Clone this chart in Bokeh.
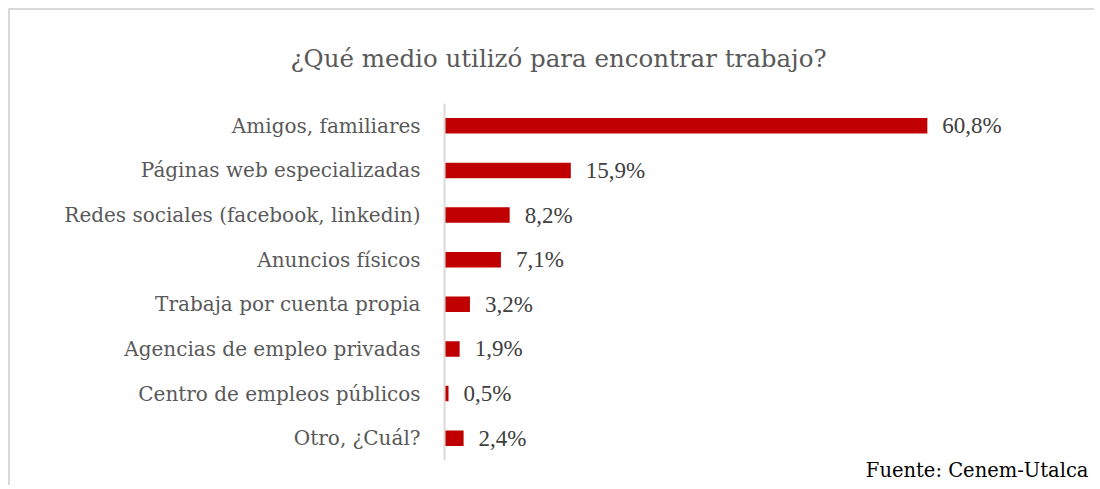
from bokeh.plotting import figure
from bokeh.models import ColumnDataSource, LabelSet, Span, Title
from bokeh.core.properties import value
from bokeh.embed import file_html
from bokeh.resources import INLINE

categories = ["Amigos, familiares", "Páginas web especializadas",
              "Redes sociales (facebook, linkedin)", "Anuncios físicos",
              "Trabaja por cuenta propia", "Agencias de empleo privadas",
              "Centro de empleos públicos", "Otro, ¿Cuál?"]
values = [60.8, 15.9, 8.2, 7.1, 3.2, 1.9, 0.5, 2.4]
labels = [f"{v:.1f}".replace(".", ",") + "%" for v in values]
title_text = "¿Qué medio utilizó para encontrar trabajo?"
source_text = "Fuente: Cenem-Utalca"

FONT = "DejaVu Serif"

src = ColumnDataSource(dict(cat=categories, val=values, lab=labels))

W, H = 1086, 477

p = figure(width=W, height=H, y_range=list(reversed(categories)),
           x_range=(-53.4, 82.1), output_backend="svg", toolbar_location=None,
           min_border_left=10, min_border_right=0, min_border_top=93,
           min_border_bottom=27)
p.styles = {"border-top": "2px solid #d9d9d9", "border-left": "2px solid #d9d9d9",
            "border-right": "0px none white", "border-bottom": "0px none white",
            "outline": "none", "box-shadow": "none", "overflow": "hidden",
            "background-color": "white",
            "margin-left": "8px", "margin-top": "8px"}
p.outline_line_color = None
p.border_fill_color = "white"
p.grid.visible = False
p.axis.visible = False

p.hbar(y="cat", right="val", left=0, height=0.35, source=src,
       fill_color="#c00000", line_color=None)

p.add_layout(Span(location=0, dimension="height", line_color="#d9d9d9",
                  line_width=2))

p.text(x=0, y="cat", text="cat", source=src, x_offset=-24,
       text_align="right", text_baseline="middle", text_font=value(FONT),
       text_font_size="20px", text_color="#595959")

ls = LabelSet(x="val", y="cat", text="lab", source=src, x_offset=15,
              text_baseline="middle", text_font=FONT, text_font_size="23px",
              text_color="#404040")
p.add_layout(ls)

p.add_layout(Title(text=title_text, align="center", vertical_align="middle",
                   standoff=60, text_font=FONT, text_font_size="24.5px",
                   text_font_style="normal", text_color="#595959"), "above")

p.add_layout(Title(text=source_text, align="right", vertical_align="middle",
                   offset=8, standoff=-6, text_font=FONT, text_font_size="19.5px",
                   text_font_style="normal", text_color="#000000"), "below")

open("out.html", "w").write(file_html(p, INLINE))
